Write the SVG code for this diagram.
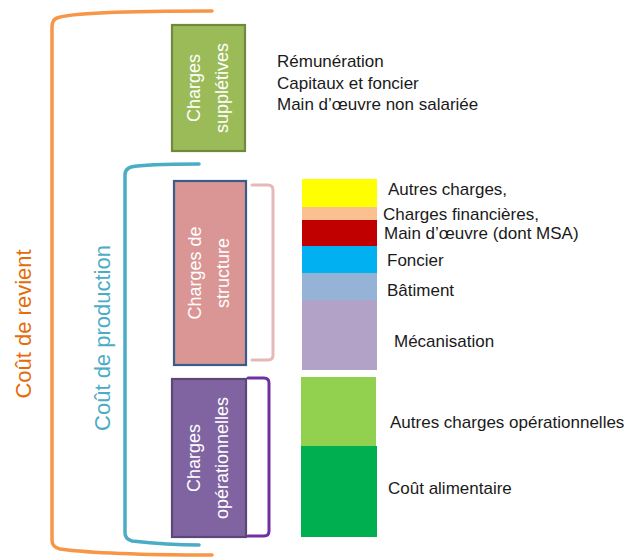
<svg xmlns="http://www.w3.org/2000/svg" width="635" height="558" viewBox="0 0 635 558">
<style>
.lbl{font-family:"Liberation Sans",Arial,sans-serif;font-size:17px;fill:#1a1a1a}
.box{stroke-width:2.2}
.bt{font-family:"Liberation Sans",Arial,sans-serif;font-size:18px;fill:#ffffff;text-anchor:middle}
.big{font-family:"Liberation Sans",Arial,sans-serif;font-size:22px;text-anchor:middle}
.br{fill:none;stroke-linecap:round;stroke-linejoin:round}
</style>
<rect width="635" height="558" fill="#ffffff"/>
<g id="connectors">
<path class="br" d="M212 11 C130 11 70 13 57 18 Q52 20 52 27 L52 540 Q52 547 60 549 C90 553 150 555 212 555" stroke="#F79646" stroke-width="3.5"/>
<path class="br" d="M199 164 C170 164 140 165 131 167 Q125 169 125 175 L125 533 Q125 539 132 541 C150 543 175 545 199 545" stroke="#4BACC6" stroke-width="3.5"/>
<path class="br" d="M252 185 L268 185 Q273 185 273 190 L273 355 Q273 360 268 360 L252 360" stroke="#E6B9B8" stroke-width="3"/>
<path class="br" d="M248 378 L264 378 Q269 378 269 383 L269 531 Q269 536 264 536 L248 536" stroke="#7030A0" stroke-width="3"/>
</g>
<g id="cout-revient">
<text class="big" fill="#E46C0A" transform="translate(31,324) rotate(-90)">Coût de revient</text>
</g>
<g id="cout-production">
<text class="big" fill="#4BACC6" transform="translate(110,338) rotate(-90)">Coût de production</text>
</g>
<g id="charges-suppletives">
<rect class="box" x="172" y="25" width="73" height="126" fill="#9BBB59" stroke="#71893F"/>
<text class="bt" transform="translate(200,88) rotate(-90)">Charges</text>
<text class="bt" transform="translate(228,88) rotate(-90)">supplétives</text>
</g>
<g id="charges-structure">
<rect class="box" x="174" y="181" width="72" height="184" fill="#D99694" stroke="#385D8A"/>
<text class="bt" transform="translate(201,273) rotate(-90)">Charges de</text>
<text class="bt" transform="translate(229,273) rotate(-90)">structure</text>
</g>
<g id="charges-operationnelles">
<rect class="box" x="172" y="379" width="74" height="158" fill="#8064A2" stroke="#5C4776"/>
<text class="bt" transform="translate(200,458) rotate(-90)">Charges</text>
<text class="bt" transform="translate(228,458) rotate(-90)">opérationnelles</text>
</g>
<g id="suppletives-list">
<text class="lbl" x="277" y="67">Rémunération</text>
<text class="lbl" x="277" y="89">Capitaux et foncier</text>
<text class="lbl" x="277" y="110">Main d’œuvre non salariée</text>
</g>
<g id="structure-bar">
<rect x="302" y="179" width="75" height="28" fill="#FFFF00"/>
<rect x="302" y="207" width="75" height="13" fill="#FAC090"/>
<rect x="302" y="220" width="75" height="26" fill="#C00000"/>
<rect x="302" y="246" width="75" height="27" fill="#00B0F0"/>
<rect x="302" y="273" width="75" height="27" fill="#95B3D7"/>
<rect x="302" y="300" width="75" height="70" fill="#B3A2C7"/>
<text class="lbl" x="388" y="195">Autres charges,</text>
<text class="lbl" x="383" y="220">Charges financières,</text>
<text class="lbl" x="384" y="239">Main d’œuvre (dont MSA)</text>
<text class="lbl" x="387" y="266">Foncier</text>
<text class="lbl" x="387" y="296">Bâtiment</text>
<text class="lbl" x="394" y="347">Mécanisation</text>
</g>
<g id="operationnelles-bar">
<rect x="301" y="377" width="75" height="70" fill="#92D050"/>
<rect x="301" y="446" width="76" height="91" fill="#00B050"/>
<text class="lbl" x="390" y="428">Autres charges opérationnelles</text>
<text class="lbl" x="388" y="494">Coût alimentaire</text>
</g>
</svg>
